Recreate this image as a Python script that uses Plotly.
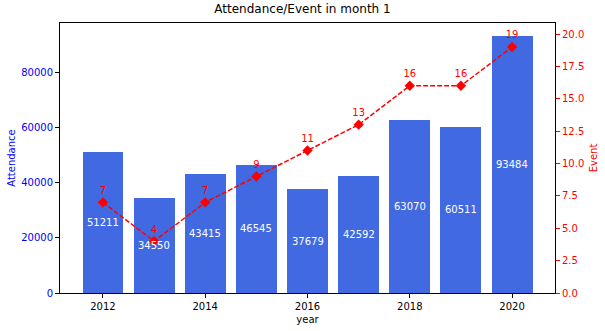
import plotly.graph_objects as go
from plotly.subplots import make_subplots

years = [2012, 2013, 2014, 2015, 2016, 2017, 2018, 2019, 2020]
attendance = [51211, 34550, 43415, 46545, 37679, 42592, 63070, 60511, 93484]
events = [7, 4, 7, 9, 11, 13, 16, 16, 19]

FONT = "DejaVu Sans"
fig = make_subplots(specs=[[{"secondary_y": True}]])

fig.add_trace(go.Bar(x=years, y=attendance, width=0.8, marker=dict(color="#4169E1", line=dict(width=0)),
                     showlegend=False), secondary_y=False)
fig.add_trace(go.Scatter(x=years, y=events, mode="lines+markers+text",
                         text=[str(e) for e in events], textposition="top center",
                         textfont=dict(color="red", size=10, family=FONT),
                         line=dict(color="red", dash="5px,2px", width=1.5),
                         marker=dict(symbol="diamond", size=8, color="red"),
                         showlegend=False, cliponaxis=False), secondary_y=True)

for x, v in zip(years, attendance):
    fig.add_annotation(x=x, y=v / 2, text=str(v), showarrow=False, yref="y",
                       font=dict(color="white", size=10, family=FONT))

fig.update_layout(
    width=605, height=331, margin=dict(l=60, r=50, t=23, b=38),
    plot_bgcolor="white", paper_bgcolor="white",
    font=dict(family=FONT, size=10, color="black"),
    title=dict(text="Attendance/Event in month 1", x=0.5, xanchor="center", y=0.985, yanchor="top",
               font=dict(size=12, color="black", family=FONT)),
    bargap=0,
)
fig.update_xaxes(domain=[0, 1], range=[2011.16, 2020.84], tickvals=[2012, 2014, 2016, 2018, 2020],
                 ticks="outside", ticklen=4, tickcolor="black", showgrid=False, zeroline=False,
                 showline=True, linecolor="black", linewidth=1, mirror=True, automargin=False,
                 title=dict(text="year", font=dict(size=10), standoff=4))
fig.update_yaxes(range=[0, 98158], tickvals=[0, 20000, 40000, 60000, 80000],
                 ticktext=["0", "20000", "40000", "60000", "80000"],
                 ticks="outside", ticklen=4, tickcolor="black", showgrid=False, zeroline=False,
                 showline=True, linecolor="black", linewidth=1, automargin=False,
                 tickfont=dict(color="blue"), title=dict(text="Attendance", font=dict(color="blue", size=10), standoff=3),
                 secondary_y=False)
fig.update_yaxes(range=[0, 20.85], tickvals=[0, 2.5, 5, 7.5, 10, 12.5, 15, 17.5, 20],
                 ticktext=["0.0", "2.5", "5.0", "7.5", "10.0", "12.5", "15.0", "17.5", "20.0"],
                 ticks="outside", ticklen=4, tickcolor="red", showgrid=False, zeroline=False,
                 showline=True, linecolor="black", linewidth=1, automargin=False,
                 tickfont=dict(color="red"), title=dict(text="Event", font=dict(color="red", size=10), standoff=6),
                 secondary_y=True)

fig.write_html("out.html")
